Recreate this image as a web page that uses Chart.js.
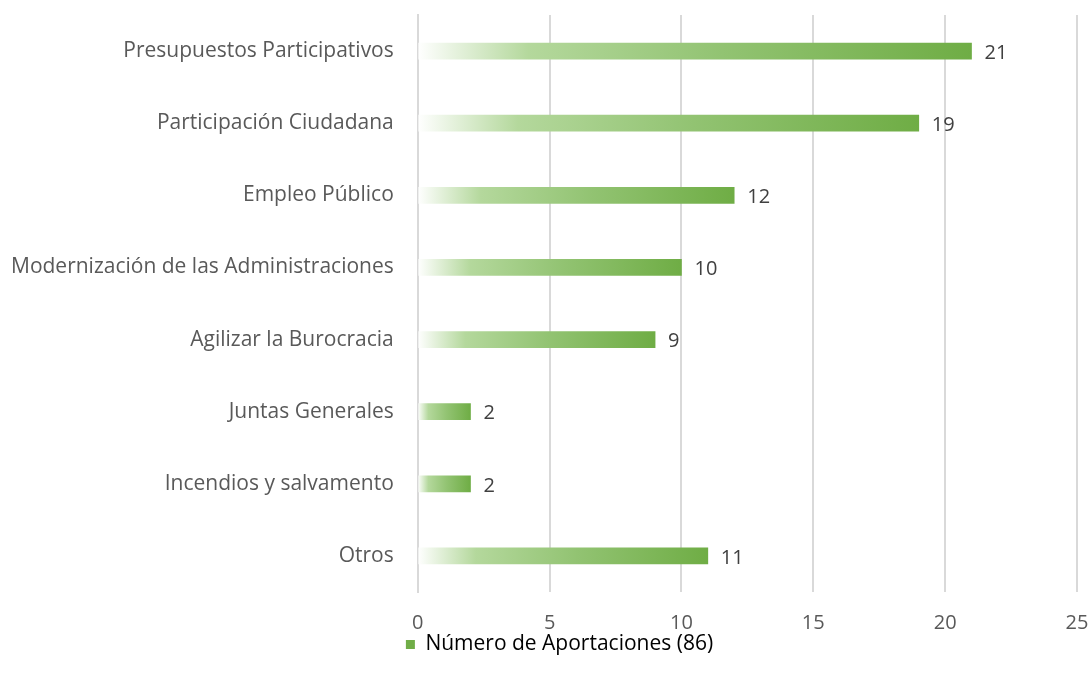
<!DOCTYPE html>
<html>
<head>
<meta charset="utf-8">
<script src="https://cdn.jsdelivr.net/npm/chart.js@4/dist/chart.umd.min.js"></script>
<style>
  html, body { margin: 0; padding: 0; background: #fff; }
  #wrap { width: 1091px; height: 682px; }
</style>
</head>
<body>
<div id="wrap"><canvas id="chart"></canvas></div>
<script>
const categories = [
  "Presupuestos Participativos",
  "Participación Ciudadana",
  "Empleo Público",
  "Modernización de las Administraciones",
  "Agilizar la Burocracia",
  "Juntas Generales",
  "Incendios y salvamento",
  "Otros"
];
const aportaciones = [21, 19, 12, 10, 9, 2, 2, 11];
const seriesLabel = "Número de Aportaciones (86)";
const xTicks = [0, 5, 10, 15, 20, 25];

// gradient from white at the axis to green at the bar's end
function barGradient(context) {
  const chart = context.chart;
  const x = chart.scales.x;
  if (!x || context.type !== "data") return "#70ad47";
  const start = x.getPixelForValue(0);
  const end = x.getPixelForValue(context.raw);
  if (!isFinite(start) || !isFinite(end) || end <= start) return "#70ad47";
  const g = chart.ctx.createLinearGradient(start, 0, end, 0);
  g.addColorStop(0, "rgba(255,255,255,1)");
  g.addColorStop(0.2, "#b4d89c");
  g.addColorStop(0.55, "#92c372");
  g.addColorStop(1, "#6fad45");
  return g;
}

const valueLabels = {
  id: "valueLabels",
  afterDatasetsDraw(chart) {
    const ctx = chart.ctx;
    const meta = chart.getDatasetMeta(0);
    ctx.save();
    ctx.font = "20px 'Open Sans'";
    ctx.fillStyle = "#404040";
    ctx.textBaseline = "middle";
    ctx.textAlign = "left";
    meta.data.forEach((bar, i) => {
      ctx.fillText(String(aportaciones[i]), bar.x + 13, bar.y + 2);
    });
    ctx.restore();
  }
};

// nudge the legend a bit to the right, like the original
const legendShift = {
  id: "legendShift",
  afterLayout(chart) {
    if (chart.legend) {
      chart.legend.left += 21;
      chart.legend.right += 21;
    }
  }
};

new Chart(document.getElementById("chart"), {
  type: "bar",
  data: {
    labels: categories,
    datasets: [{
      label: seriesLabel,
      data: aportaciones,
      backgroundColor: barGradient,
      barThickness: 16,
      borderWidth: 0
    }]
  },
  options: {
    indexAxis: "y",
    responsive: true,
    maintainAspectRatio: false,
    animation: false,
    layout: { padding: { top: 15, right: 14, bottom: 17, left: 0 } },
    scales: {
      x: {
        min: 0,
        max: 25,
        afterBuildTicks: (axis) => { axis.ticks = xTicks.map(v => ({ value: v })); },
        afterFit: (axis) => { axis.paddingLeft = 0; },
        grid: { color: "#d9d9d9", lineWidth: 2, drawTicks: true, tickLength: 20, tickColor: "rgba(0,0,0,0)" },
        border: { display: false },
        ticks: { color: "#595959", font: { family: "'Open Sans'", size: 20, lineHeight: 1 }, padding: 1 }
      },
      y: {
        afterFit: (axis) => { axis.paddingTop = 0; axis.paddingBottom = 0; axis.width -= 5; },
        grid: { display: false },
        border: { display: true, color: "#d9d9d9", width: 2 },
        ticks: { color: "#595959", font: { family: "'Open Sans'", size: 21 }, padding: 16 }
      }
    },
    plugins: {
      legend: {
        position: "bottom",
        labels: {
          color: "#595959",
          font: { family: "'Open Sans'", size: 21 },
          boxWidth: 9,
          boxHeight: 9,
          padding: 0,
          generateLabels: (chart) => [{
            text: seriesLabel,
            fillStyle: "#70ad47",
            strokeStyle: "#70ad47",
            lineWidth: 0,
            datasetIndex: 0
          }]
        }
      },
      tooltip: { enabled: false }
    }
  },
  plugins: [valueLabels, legendShift]
});
</script>
</body>
</html>
